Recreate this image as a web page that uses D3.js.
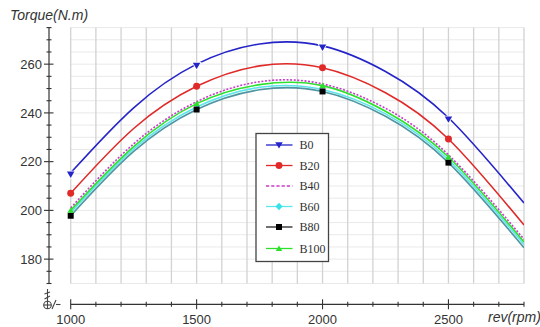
<!DOCTYPE html>
<html><head><meta charset="utf-8">
<script src="https://cdn.jsdelivr.net/npm/d3@7"></script>
<style>html,body{margin:0;padding:0;background:#fff;}svg{display:block;}</style>
</head><body>
<svg id="c" width="540" height="327"></svg>
<script>
// ---- data ----
const rpm = [1000, 1250, 1500, 1750, 2000, 2250, 2500, 2800];
const markerRpm = [1000, 1500, 2000, 2500];
const seriesNames = ["B0", "B20", "B40", "B60", "B80", "B100"];
const B0   = [215.4, 242.1, 260.0, 268.3, 267.5, 257.0, 238.0, 203.0];
const B20  = [207.0, 233.6, 250.9, 259.3, 258.5, 248.3, 229.3, 194.0];
const B40  = [201.0, 227.3, 244.6, 252.8, 251.9, 241.9, 222.8, 188.2];
const B60  = [199.0, 225.2, 242.4, 250.5, 249.6, 239.6, 220.7, 186.0];
const B80  = [197.8, 224.2, 241.4, 249.5, 248.8, 238.6, 219.6, 184.7];
const B100 = [200.0, 226.2, 243.8, 251.6, 251.2, 240.7, 221.9, 187.0];
const xTickLabels = [1000, 1500, 2000, 2500];
const yTickLabels = [180, 200, 220, 240, 260];
const xTitle = "rev(rpm)";
const yTitle = "Torque(N.m)";

const values = {B0, B20, B40, B60, B80, B100};
const style = {
  B0:   {line:"#2424c8", marker:"triDown", mfill:"#2424c8", dash:null},
  B20:  {line:"#e02a2a", marker:"circle",  mfill:"#e02a2a", dash:null},
  B40:  {line:"#c83cc8", marker:null,      mfill:null,      dash:"2,1.6"},
  B60:  {line:"#5ee6ec", marker:"diamond", mfill:"#38e0ea", dash:null},
  B80:  {line:"#4f95a2", marker:"square",  mfill:"#000",    dash:null, legendLine:"#222"},
  B100: {line:"#2ee02e", marker:"triUp",   mfill:"#2ee02e", dash:null}
};

const svg = d3.select("#c");
const x = d3.scaleLinear().domain([1000, 2800]).range([70.7, 524]);
const y = d3.scaleLinear().domain([170, 275]).range([283.5, 27.6]);

// grid
const g = svg.append("g");
g.selectAll(".hg").data(d3.range(170, 276, 5)).enter().append("line")
  .attr("x1", x(1000)).attr("x2", x(2800))
  .attr("y1", d => y(d)).attr("y2", d => y(d))
  .attr("stroke", "#e9e9e9").attr("stroke-width", 1);
g.selectAll(".vg").data(d3.range(1000, 2801, 100)).enter().append("line")
  .attr("x1", d => x(d)).attr("x2", d => x(d))
  .attr("y1", y(170)).attr("y2", y(275))
  .attr("stroke", "#d2d2d2").attr("stroke-width", 1.3);

// y axis (detached)
const yAxisX = 49;
const ya = svg.append("g").attr("transform", `translate(${yAxisX},0)`);
ya.append("line").attr("y1", y(170)).attr("y2", y(275)).attr("stroke", "#333").attr("stroke-width", 1.2);
ya.selectAll(".mt").data(d3.range(170, 276, 5)).enter().append("line")
  .attr("x1", d => yTickLabels.includes(d) ? -5 : -2.5)
  .attr("x2", d => yTickLabels.includes(d) ? 4.5 : 2.5)
  .attr("y1", d => y(d)).attr("y2", d => y(d))
  .attr("stroke", "#333").attr("stroke-width", 1.1);
ya.selectAll(".yl").data(yTickLabels).enter().append("text")
  .attr("x", -7).attr("y", d => y(d) + 4.6)
  .attr("text-anchor", "end").attr("font-family", "Liberation Sans, Arial, sans-serif")
  .attr("font-size", 13).attr("fill", "#333").text(d => d);

// x axis (detached)
const xAxisY = 304.3;
const xa = svg.append("g").attr("transform", `translate(0,${xAxisY})`);
xa.append("line").attr("x1", x(1000)).attr("x2", x(2800)).attr("stroke", "#333").attr("stroke-width", 1.2);
xa.selectAll(".xt").data(d3.range(1000, 2801, 100)).enter().append("line")
  .attr("x1", d => x(d)).attr("x2", d => x(d))
  .attr("y1", d => (xTickLabels.includes(d)) ? -5 : -2.5)
  .attr("y2", d => (xTickLabels.includes(d)) ? 5 : 2.5)
  .attr("stroke", "#333").attr("stroke-width", 1.1);
xa.selectAll(".xl").data(xTickLabels).enter().append("text")
  .attr("x", d => x(d)).attr("y", 19.5)
  .attr("text-anchor", "middle").attr("font-family", "Liberation Sans, Arial, sans-serif")
  .attr("font-size", 13).attr("fill", "#333").text(d => d);

// axis break symbol
const br = svg.append("g").attr("stroke", "#444").attr("fill", "none").attr("stroke-width", 1.1);
br.append("circle").attr("cx", 47.5).attr("cy", 305).attr("r", 3.8);
br.append("line").attr("x1", 43.7).attr("x2", 51.3).attr("y1", 305).attr("y2", 305);
br.append("line").attr("x1", 47.5).attr("x2", 47.5).attr("y1", 301.2).attr("y2", 308.8);
br.append("line").attr("x1", 47.5).attr("x2", 47.5).attr("y1", 289).attr("y2", 301);
br.append("line").attr("x1", 44.5).attr("x2", 50).attr("y1", 294).attr("y2", 292);
br.append("line").attr("x1", 44.5).attr("x2", 50).attr("y1", 299).attr("y2", 296);
br.append("line").attr("x1", 52).attr("x2", 56).attr("y1", 309).attr("y2", 300);
br.append("line").attr("x1", 56).attr("x2", 60.5).attr("y1", 304.5).attr("y2", 304.5);

// titles
svg.append("text").attr("x", 10).attr("y", 20).attr("font-family", "Liberation Sans, Arial, sans-serif")
  .attr("font-style", "italic").attr("font-size", 14).attr("fill", "#333").text(yTitle);
svg.append("text").attr("x", 488).attr("y", 321.5).attr("font-family", "Liberation Sans, Arial, sans-serif")
  .attr("font-style", "italic").attr("font-size", 14).attr("fill", "#333").text(xTitle);

// clip
svg.append("clipPath").attr("id", "clip").append("rect")
  .attr("x", x(1000) - 10).attr("y", y(275)).attr("width", x(2800) - x(1000) + 10).attr("height", y(170) - y(275));

function markerPath(type, s) {
  const h = s / 2;
  switch (type) {
    case "triDown": return `M${-h},${-h*0.75}L${h},${-h*0.75}L0,${h*0.95}Z`;
    case "triUp": return `M${-h},${h*0.75}L${h},${h*0.75}L0,${-h*0.95}Z`;
    case "square": return `M${-h},${-h}H${h}V${h}H${-h}Z`;
    case "diamond": return `M0,${-h*1.1}L${h},0L0,${h*1.1}L${-h},0Z`;
    case "circle": return d3.symbol(d3.symbolCircle, s * s * 0.78)();
  }
}
const markerSize = {triDown: 7.5, triUp: 6.5, square: 6, diamond: 7, circle: 7};

const line = d3.line().x(d => x(d[0])).y(d => y(d[1])).curve(d3.curveNatural);
const drawOrder = ["B0", "B20", "B60", "B80", "B100", "B40"];
const plot = svg.append("g").attr("clip-path", "url(#clip)");
drawOrder.forEach(name => {
  const st = style[name];
  const pts = rpm.map((r, i) => [r, values[name][i]]);
  plot.append("path").datum(pts).attr("d", line)
    .attr("fill", "none").attr("stroke", st.line).attr("stroke-width", 1.6)
    .attr("stroke-dasharray", st.dash);
});
// markers
["B0", "B20", "B80", "B100"].forEach(name => {
  const st = style[name];
  const pts = markerRpm.map(r => [r, values[name][rpm.indexOf(r)]]);
  svg.append("g").selectAll("path").data(pts).enter().append("path")
    .attr("transform", d => `translate(${x(d[0])},${y(d[1]) + (name === "B0" ? 1.5 : 0)})`)
    .attr("d", markerPath(st.marker, markerSize[st.marker]))
    .attr("fill", st.mfill)
    .attr("stroke", name === "B0" ? "#fff" : "none").attr("stroke-width", name === "B0" ? 1.5 : 0)
    .attr("paint-order", "stroke");
});

// legend
const lg = svg.append("g");
lg.append("rect").attr("x", 256).attr("y", 133.5).attr("width", 72.5).attr("height", 128)
  .attr("fill", "#fff").attr("stroke", "#444").attr("stroke-width", 1.3);
const rowsY = [145, 165.5, 186, 206.5, 227, 248.5];
seriesNames.forEach((name, i) => {
  const st = style[name];
  const ry = rowsY[i];
  lg.append("line").attr("x1", 266).attr("x2", 292.5).attr("y1", ry).attr("y2", ry)
    .attr("stroke", st.legendLine || st.line).attr("stroke-width", 1.3)
    .attr("stroke-dasharray", name === "B40" ? "3.2,2" : null);
  if (st.marker) {
    lg.append("path").attr("transform", `translate(279,${ry})`)
      .attr("d", markerPath(st.marker, markerSize[st.marker]))
      .attr("fill", st.mfill);
  }
  lg.append("text").attr("x", 299.5).attr("y", ry + 4)
    .attr("font-family", "Liberation Serif, Times New Roman, serif").attr("font-size", 12)
    .attr("fill", "#333").text(name);
});
</script>
</body></html>
